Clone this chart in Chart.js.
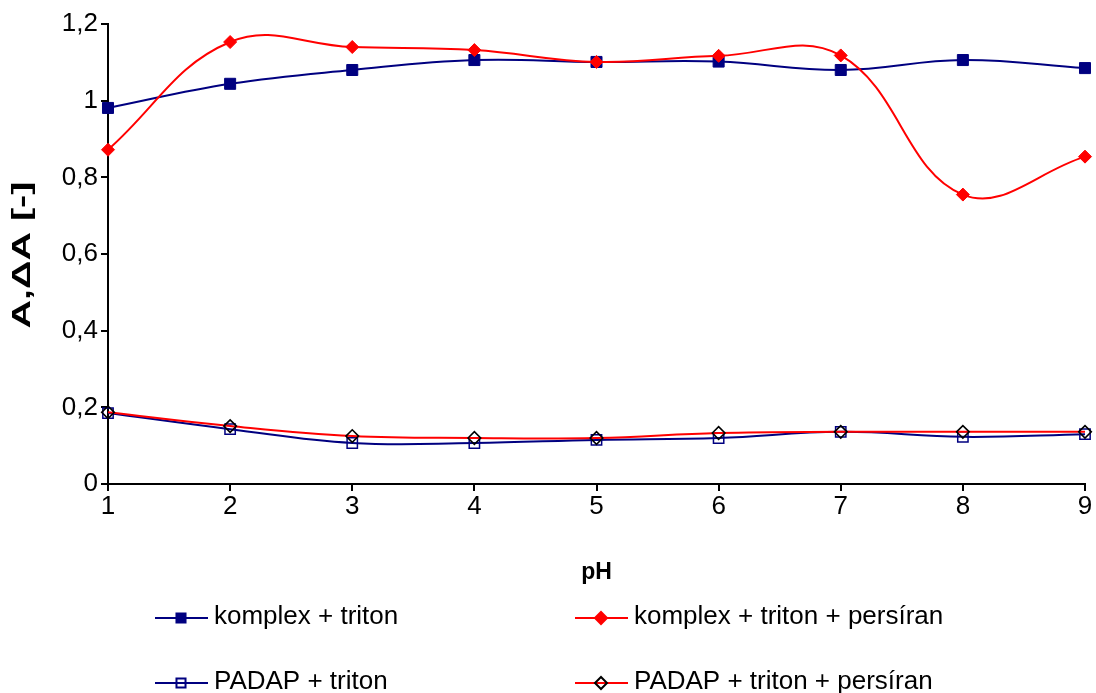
<!DOCTYPE html>
<html lang="cs">
  <head>
    <meta charset="UTF-8" />
    <title>A, ΔA vs pH</title>
    <script src="https://cdn.jsdelivr.net/npm/chart.js"></script>
    <style>
      html, body { margin: 0; padding: 0; background: #fff; }
      #wrap { width: 1096px; height: 693px; }
    </style>
  </head>
  <body>
    <div id="wrap"><canvas id="ph-chart"></canvas></div>
    <script>
      // data
      const phValues = [1, 2, 3, 4, 5, 6, 7, 8, 9];
      const komplexTriton = [0.981, 1.044, 1.080, 1.106, 1.101, 1.102, 1.080, 1.106, 1.085];
      const komplexTritonPersiran = [0.872, 1.153, 1.140, 1.132, 1.101, 1.117, 1.118, 0.755, 0.854];
      const padapTriton = [0.185, 0.143, 0.107, 0.107, 0.115, 0.120, 0.136, 0.123, 0.130];
      const padapTritonPersiran = [0.187, 0.151, 0.125, 0.120, 0.120, 0.133, 0.136, 0.136, 0.136];
      const seriesNames = [
        "komplex + triton",
        "komplex + triton + persíran",
        "PADAP + triton",
        "PADAP + triton + persíran",
      ];
      const yTitle = "A,ΔA [-]";

      const NAVY = "#000080";
      const RED = "#ff0000";
      const FONT = "'Liberation Sans', Arial, sans-serif";

      function toPoints(vals) {
        return vals.map((v, i) => ({ x: phValues[i], y: v }));
      }

      // legend drawn by hand: two columns, two rows
      const legendSpots = [
        { x: 155, y: 618 },
        { x: 575, y: 618 },
        { x: 155, y: 683 },
        { x: 575, y: 683 },
      ];
      const gridLegend = {
        id: "gridLegend",
        afterDraw(chart) {
          const ctx = chart.ctx;
          ctx.save();
          chart.data.datasets.forEach((ds, i) => {
            const p = legendSpots[i];
            ctx.strokeStyle = ds.borderColor;
            ctx.lineWidth = 2;
            ctx.beginPath();
            ctx.moveTo(p.x, p.y);
            ctx.lineTo(p.x + 53, p.y);
            ctx.stroke();
            ctx.fillStyle = ds.pointBackgroundColor;
            ctx.strokeStyle = ds.pointBorderColor;
            Chart.helpers.drawPoint(
              ctx,
              {
                pointStyle: ds.pointStyle,
                radius: ds.pointStyle === "rect" ? 6.4 : 6,
                rotation: 0,
                borderWidth: ds.pointBorderWidth,
              },
              p.x + 26,
              p.y
            );
            ctx.fillStyle = "#000";
            ctx.font = "26px " + FONT;
            ctx.textBaseline = "middle";
            ctx.textAlign = "left";
            ctx.fillText(ds.label, p.x + 59, p.y - 1);
          });
          ctx.restore();
        },
      };

      // y title: the original stretches the rotated text along its length
      const stretchedYTitle = {
        id: "stretchedYTitle",
        afterDraw(chart) {
          const ctx = chart.ctx;
          const area = chart.chartArea;
          ctx.save();
          ctx.translate(23, (area.top + area.bottom) / 2 + 1);
          ctx.rotate(-Math.PI / 2);
          ctx.scale(1.58, 1);
          ctx.fillStyle = "#000";
          ctx.font = "bold 25px " + FONT;
          ctx.textAlign = "center";
          ctx.textBaseline = "middle";
          ctx.fillText(yTitle, 0, 0);
          ctx.restore();
        },
      };

      const ctx = document.getElementById("ph-chart").getContext("2d");
      new Chart(ctx, {
        type: "line",
        data: {
          datasets: [
            {
              label: seriesNames[0],
              data: toPoints(komplexTriton),
              borderColor: NAVY,
              borderWidth: 2,
              pointStyle: "rect",
              pointRadius: 7.8,
              pointBackgroundColor: NAVY,
              pointBorderColor: NAVY,
              pointBorderWidth: 1,
              clip: false,
              order: 4,
            },
            {
              label: seriesNames[1],
              data: toPoints(komplexTritonPersiran),
              borderColor: RED,
              borderWidth: 2,
              pointStyle: "rectRot",
              pointRadius: 6.5,
              pointBackgroundColor: RED,
              pointBorderColor: RED,
              pointBorderWidth: 1,
              clip: false,
              order: 3,
            },
            {
              label: seriesNames[2],
              data: toPoints(padapTriton),
              borderColor: NAVY,
              borderWidth: 2,
              pointStyle: "rect",
              pointRadius: 7.3,
              pointBackgroundColor: "rgba(0,0,0,0)",
              pointBorderColor: NAVY,
              pointBorderWidth: 1.5,
              clip: false,
              order: 2,
            },
            {
              label: seriesNames[3],
              data: toPoints(padapTritonPersiran),
              borderColor: RED,
              borderWidth: 2,
              pointStyle: "rectRot",
              pointRadius: 6.3,
              pointBackgroundColor: "rgba(0,0,0,0)",
              pointBorderColor: "#000",
              pointBorderWidth: 1.6,
              clip: false,
              order: 1,
            },
          ],
        },
        options: {
          responsive: true,
          maintainAspectRatio: false,
          animation: false,
          layout: { padding: { top: 24, right: 11, bottom: 103, left: 0 } },
          elements: { line: { tension: 0.4, fill: false } },
          scales: {
            x: {
              type: "linear",
              min: 1,
              max: 9,
              border: { color: "#000", width: 2 },
              grid: {
                drawOnChartArea: false,
                drawTicks: true,
                tickLength: 7,
                color: "#000",
                lineWidth: 2,
              },
              ticks: {
                stepSize: 1,
                padding: 0,
                color: "#000",
                font: { family: FONT, size: 26 },
              },
              title: {
                display: true,
                text: "pH",
                color: "#000",
                font: { family: FONT, size: 23, weight: "bold" },
                padding: { top: 0, bottom: 4 },
              },
              afterFit(scale) {
                scale.height = 106;
              },
            },
            y: {
              min: 0,
              max: 1.2,
              border: { color: "#000", width: 2 },
              grid: {
                drawOnChartArea: false,
                drawTicks: true,
                tickLength: 7,
                color: "#000",
                lineWidth: 2,
              },
              ticks: {
                stepSize: 0.2,
                padding: 3,
                color: "#000",
                font: { family: FONT, size: 26 },
                callback: (v) => String(Number(v.toFixed(1))).replace(".", ","),
              },
              title: { display: false },
              afterFit(scale) {
                scale.width = 108;
              },
            },
          },
          plugins: {
            legend: { display: false },
            tooltip: { enabled: false },
          },
        },
        plugins: [gridLegend, stretchedYTitle],
      });
    </script>
  </body>
</html>
